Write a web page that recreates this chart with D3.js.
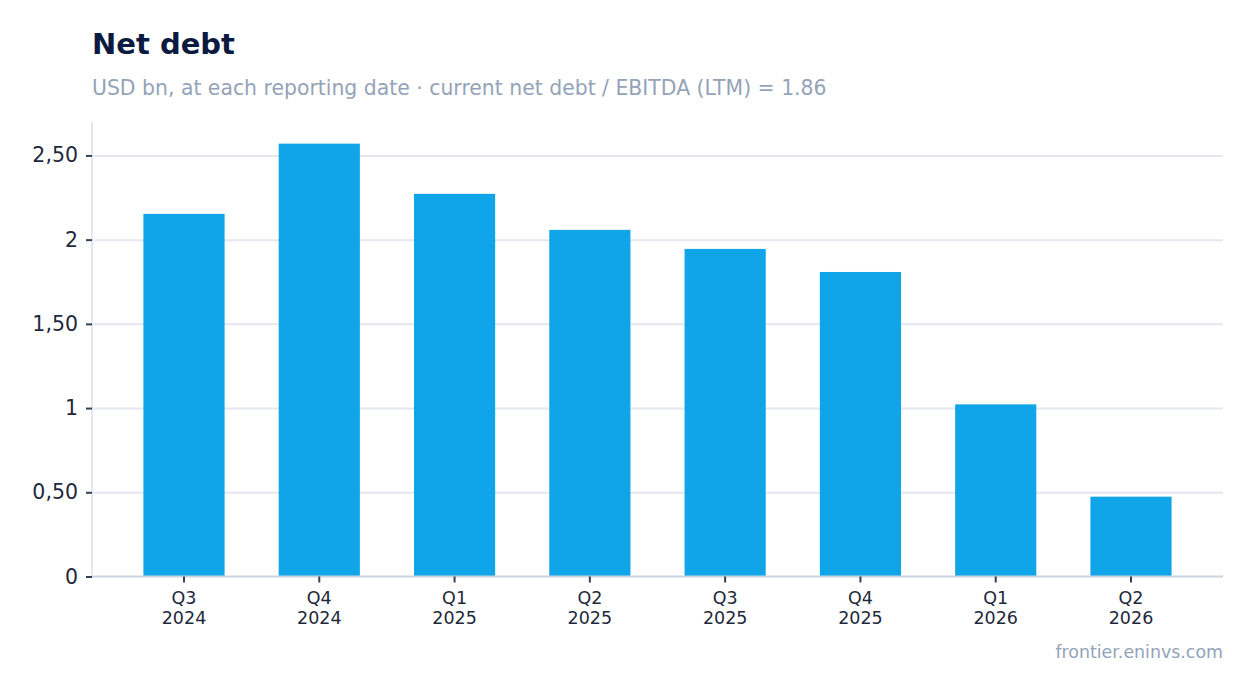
<!DOCTYPE html>
<html>
<head>
<meta charset="utf-8">
<script src="https://cdn.jsdelivr.net/npm/d3@7"></script>
<style>
  body { margin: 0; background: #fff; }
  svg { display: block; }
  svg text { font-family: "DejaVu Sans", sans-serif; }
  .grid line { stroke: #e2e8f0; stroke-width: 2; }
  .grid .domain { display: none; }
  .yaxis text { fill: #1e293b; font-size: 20.5px; }
  .xaxis text { fill: #1e293b; font-size: 17.5px; }
  .yaxis .tick line, .xaxis .tick line { stroke: #334155; stroke-width: 2; }
</style>
</head>
<body>
<svg id="chart" width="1254" height="693"></svg>
<script>
// quarters and net debt (USD bn)
var quarters = ["Q3 2024", "Q4 2024", "Q1 2025", "Q2 2025", "Q3 2025", "Q4 2025", "Q1 2026", "Q2 2026"];
var netDebt = [2.153, 2.570, 2.272, 2.058, 1.945, 1.808, 1.022, 0.474];
var yTicks = [0, 0.5, 1, 1.5, 2, 2.5];

var svg = d3.select("#chart");
var plotLeft = 92, plotRight = 1223, plotTop = 122, plotBottom = 576.5;

var x = d3.scaleBand()
  .domain(quarters)
  .range([plotLeft, plotRight])
  .paddingInner(0.4)
  .paddingOuter(0.38);

var y = d3.scaleLinear()
  .domain([0, d3.max(netDebt) * 1.05])
  .range([plotBottom, plotTop]);

function fmt(d){
  return Number.isInteger(d) ? String(d) : d.toFixed(2).replace(".", ",");
}

// title
svg.append("text")
  .attr("x", 92).attr("y", 54)
  .attr("font-size", 29).attr("font-weight", "bold")
  .attr("fill", "#0b1a40")
  .text("Net debt");
svg.append("text")
  .attr("x", 92).attr("y", 95)
  .attr("font-size", 20.4)
  .attr("fill", "#94a3b8")
  .text("USD bn, at each reporting date · current net debt / EBITDA (LTM) = 1.86");

// gridlines
svg.append("g")
  .attr("class", "grid")
  .attr("transform", "translate(" + plotLeft + ",0)")
  .call(d3.axisLeft(y).tickValues(yTicks.filter(function(d){ return d > 0; })).tickSize(-(plotRight - plotLeft)).tickFormat(""));

// left axis line
svg.append("line")
  .attr("x1", plotLeft).attr("x2", plotLeft)
  .attr("y1", plotTop).attr("y2", plotBottom)
  .attr("stroke", "#e2e8f0").attr("stroke-width", 2);

// bars
svg.append("g").selectAll("rect")
  .data(netDebt)
  .join("rect")
  .attr("x", function(d, i){ return x(quarters[i]); })
  .attr("y", function(d){ return y(d); })
  .attr("width", x.bandwidth())
  .attr("height", function(d){ return y(0) - y(d); })
  .attr("fill", "#10a5e8");

// bottom axis line
svg.append("line")
  .attr("x1", plotLeft).attr("x2", plotRight)
  .attr("y1", plotBottom).attr("y2", plotBottom)
  .attr("stroke", "#cbd5e1").attr("stroke-width", 2);

// y axis
var yAxis = svg.append("g")
  .attr("class", "yaxis")
  .attr("transform", "translate(" + plotLeft + ",0)")
  .call(d3.axisLeft(y).tickValues(yTicks).tickFormat(fmt).tickSize(6).tickPadding(8));
yAxis.select(".domain").remove();

// x axis
var xAxis = svg.append("g")
  .attr("class", "xaxis")
  .attr("transform", "translate(0," + plotBottom + ")")
  .call(d3.axisBottom(x).tickSize(6).tickPadding(9));
xAxis.select(".domain").remove();
xAxis.selectAll(".tick text").each(function(d){
  var parts = d.split(" ");
  var t = d3.select(this).text(null);
  t.append("tspan").attr("x", 0).attr("dy", "0.71em").text(parts[0]);
  t.append("tspan").attr("x", 0).attr("dy", "1.16em").text(parts[1]);
});

// source
svg.append("text")
  .attr("x", 1223).attr("y", 658)
  .attr("text-anchor", "end")
  .attr("font-size", 17.4)
  .attr("fill", "#94a3b8")
  .text("frontier.eninvs.com");
</script>
</body>
</html>
